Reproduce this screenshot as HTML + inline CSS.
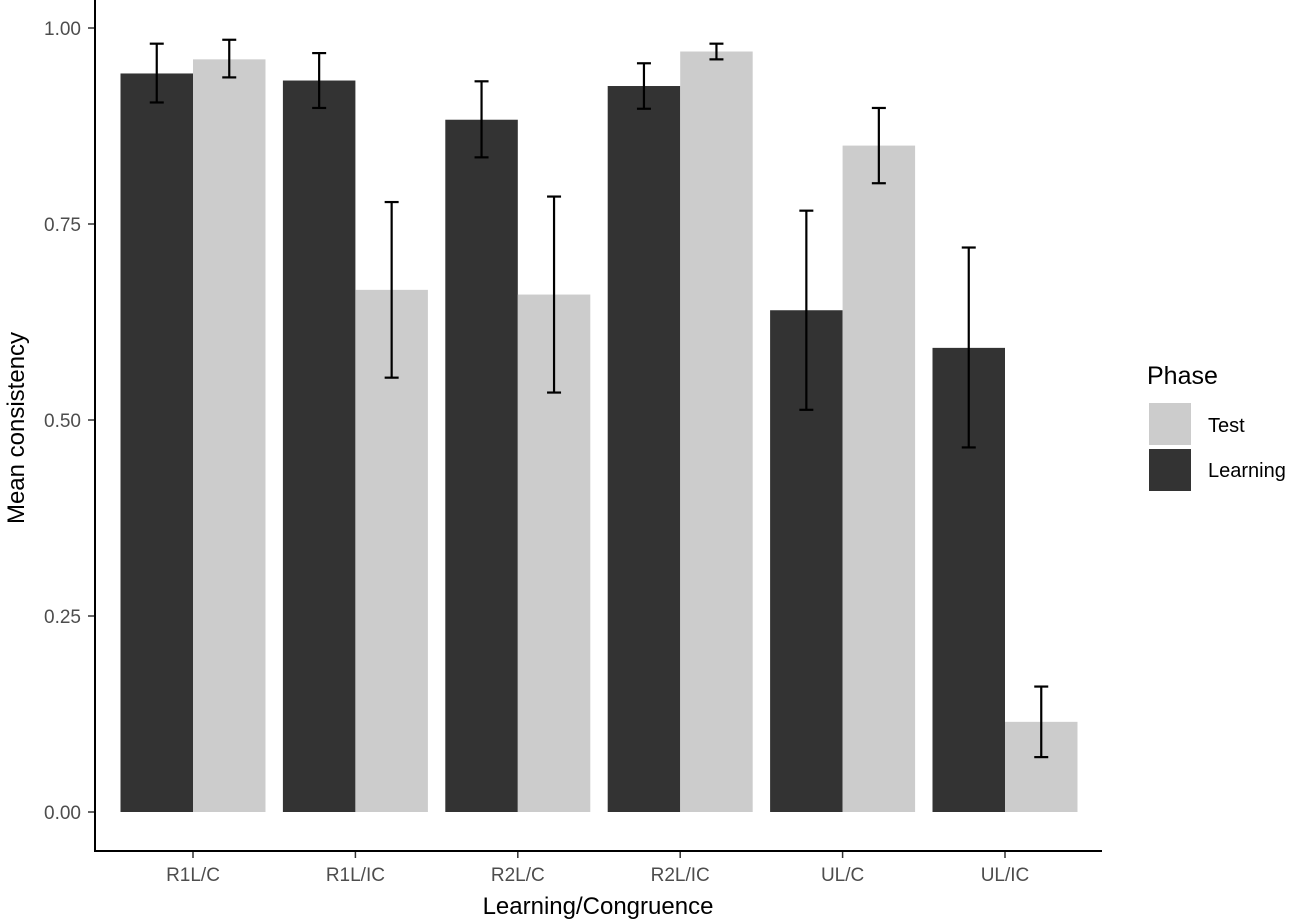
<!DOCTYPE html>
<html><head><meta charset="utf-8"><style>
body{margin:0;background:#fff;}
svg{display:block;font-family:"Liberation Sans",Arial,sans-serif;}
</style></head><body>
<svg id="chart" width="1299" height="922" viewBox="0 0 1299 922" xmlns="http://www.w3.org/2000/svg">
<g id="bars"></g>
<g id="errs"></g>
<g id="axes"></g>
<text transform="translate(24,428) rotate(-90)" text-anchor="middle" font-size="24" fill="#000">Mean consistency</text>
<text x="598" y="914" text-anchor="middle" font-size="24" fill="#000">Learning/Congruence</text>
<g>
<text x="1147" y="384" font-size="25" fill="#000">Phase</text>
<rect x="1149" y="403" width="42" height="42" fill="#cccccc"/>
<rect x="1149" y="449" width="42" height="42" fill="#333333"/>
<text x="1208" y="432" font-size="20" fill="#000">Test</text>
<text x="1208" y="477" font-size="20" fill="#000">Learning</text>
</g>
</svg>
<script>
const categories=["R1L/C","R1L/IC","R2L/C","R2L/IC","UL/C","UL/IC"];
const learning=[0.942,0.933,0.883,0.926,0.640,0.592];
const learningLo=[0.905,0.898,0.835,0.897,0.513,0.465];
const learningHi=[0.980,0.968,0.932,0.955,0.767,0.720];
const test=[0.960,0.666,0.660,0.970,0.850,0.115];
const testLo=[0.937,0.554,0.535,0.960,0.802,0.070];
const testHi=[0.985,0.778,0.785,0.980,0.898,0.160];
const yTicks=[0,0.25,0.5,0.75,1];
const yTickLabels=["0.00","0.25","0.50","0.75","1.00"];
const NS="http://www.w3.org/2000/svg";
const y=v=>812-v*784;
const step=162.4, x0=193;
const xc=i=>x0+i*step;
const bw=72.5;
function mk(t,a,p){const e=document.createElementNS(NS,t);for(const k in a)e.setAttribute(k,a[k]);p.appendChild(e);return e;}
const bars=document.getElementById('bars'),errs=document.getElementById('errs'),axes=document.getElementById('axes');
categories.forEach((c,i)=>{
  const b1=mk('rect',{x:xc(i)-bw,y:y(learning[i]),width:bw,height:y(0)-y(learning[i]),fill:'#333333'},bars);
  
  
  const b2=mk('rect',{x:xc(i),y:y(test[i]),width:bw,height:y(0)-y(test[i]),fill:'#cccccc'},bars);
  
  
  [[xc(i)-bw/2,learningLo[i],learningHi[i],'learning'],[xc(i)+bw/2,testLo[i],testHi[i],'test']].forEach(([cx,lo,hi,n])=>{
    const g=mk('g',{stroke:'#000','stroke-width':2.2,fill:'none'},errs);
    
    
    mk('line',{x1:cx,x2:cx,y1:y(lo),y2:y(hi)},g);
    mk('line',{x1:cx-7,x2:cx+7,y1:y(lo),y2:y(lo)},g);
    mk('line',{x1:cx-7,x2:cx+7,y1:y(hi),y2:y(hi)},g);
  });
  const tk=mk('line',{x1:xc(i),x2:xc(i),y1:851,y2:858,stroke:'#333','stroke-width':1.5},axes);
  
  
  const tl=mk('text',{x:xc(i),y:881,'text-anchor':'middle','font-size':19,fill:'#4d4d4d'},axes);
  
  
  tl.textContent=c;
});
yTicks.forEach((v,i)=>{
  const tk=mk('line',{x1:88,x2:95,y1:y(v),y2:y(v),stroke:'#333','stroke-width':1.5},axes);
  
  
  const tl=mk('text',{x:81,y:y(v)+7,'text-anchor':'end','font-size':19,fill:'#4d4d4d'},axes);
  
  
  tl.textContent=yTickLabels[i];
});
const ax=mk('path',{d:'M95,0 V851 H1102',stroke:'#000','stroke-width':2,fill:'none'},axes);


</script>
</body></html>
